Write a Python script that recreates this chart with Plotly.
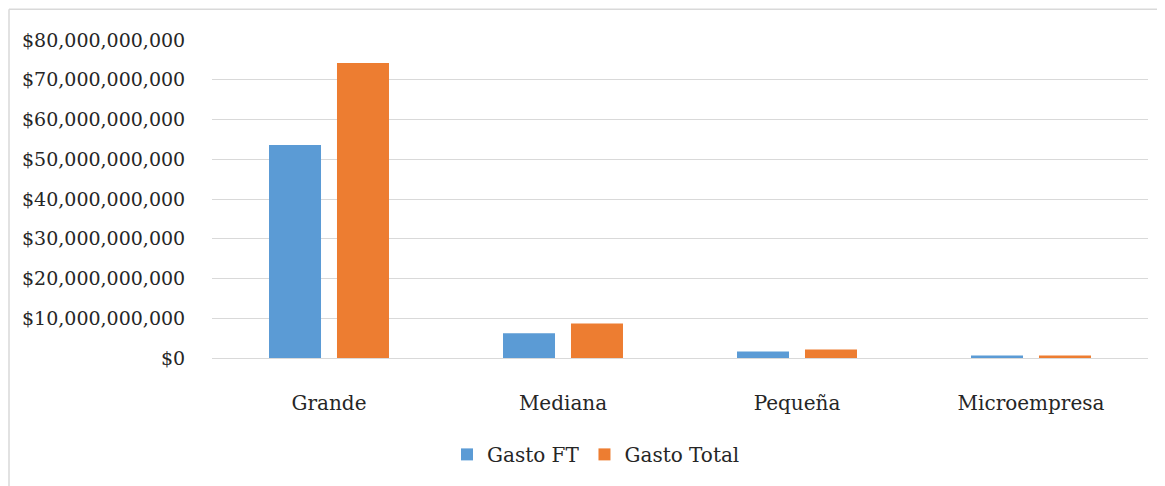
import plotly.graph_objects as go

categories = ["Grande", "Mediana", "Pequeña", "Microempresa"]
gasto_ft = [53.6e9, 6.25e9, 1.65e9, 0.65e9]
gasto_total = [74.2e9, 8.7e9, 2.15e9, 0.6e9]
series_names = ["Gasto FT", "Gasto Total"]

FONT = "DejaVu Serif"
TXT = "#262626"
FS_Y = 19
FS_X = 20

fig = go.Figure()
fig.add_trace(go.Bar(x=categories, y=gasto_ft, name=series_names[0], marker_color="#5B9BD5", marker_line_width=0))
fig.add_trace(go.Bar(x=categories, y=gasto_total, name=series_names[1], marker_color="#ED7D31", marker_line_width=0))

OFF = 8  # page body margin
W, H = 1165 - OFF, 486 - OFF
L, R, T, B = 212 - OFF, 17, 40 - OFF, 126
pw, ph = W - L - R, H - T - B

def py(y_img):
    return (H + OFF - B - y_img) / ph

def px(x_img):
    return (x_img - OFF - L) / pw

fig.update_layout(
    width=W, height=H,
    margin=dict(l=L, r=R, t=T, b=B, pad=0),
    paper_bgcolor="white", plot_bgcolor="white",
    barmode="group", bargap=0.419, bargroupgap=0.235,
    font=dict(family=FONT, size=FS_X, color=TXT),
    showlegend=True,
    legend=dict(orientation="h", x=px(596), xanchor="center",
                y=py(457), yanchor="middle",
                font=dict(family=FONT, size=FS_X, color=TXT),
                itemwidth=30, tracegroupgap=0),
    xaxis=dict(showgrid=False, showline=False, zeroline=False,
               ticks="outside", ticklen=27, tickcolor="rgba(0,0,0,0)",
               tickfont=dict(family=FONT, size=FS_X, color=TXT)),
    yaxis=dict(range=[0, 80e9], dtick=10e9, tickprefix="$", tickformat=",.0f",
               showgrid=True, gridcolor="#D9D9D9", gridwidth=1.3,
               zeroline=True, zerolinecolor="#D9D9D9", zerolinewidth=1.3,
               showline=False, ticks="outside", ticklen=22, tickcolor="rgba(0,0,0,0)",
               tickfont=dict(family=FONT, size=FS_Y, color=TXT)),
    shapes=[
        dict(type="line", xref="paper", yref="paper",
             x0=px(9), x1=px(1170), y0=py(9), y1=py(9),
             line=dict(color="#D9D9D9", width=1.5)),
        dict(type="line", xref="paper", yref="paper",
             x0=px(9), x1=px(9), y0=py(9), y1=py(495),
             line=dict(color="#D9D9D9", width=1.5)),
    ],
)

fig.write_html("out.html")
